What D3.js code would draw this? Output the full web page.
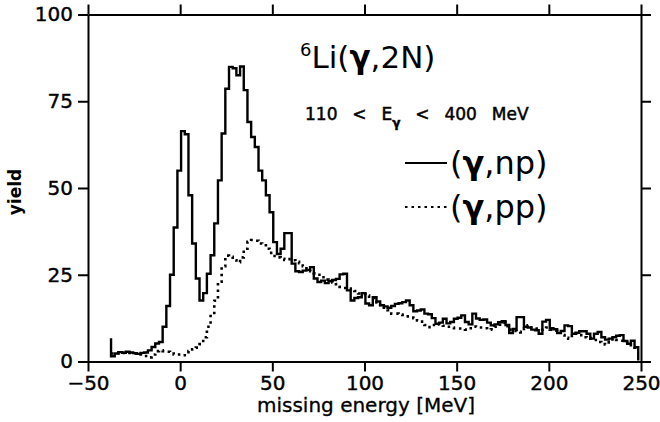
<!DOCTYPE html>
<html lang="en">
<head>
<meta charset="utf-8">
<title>6Li(gamma,2N) missing energy</title>
<script src="https://d3js.org/d3.v7.min.js"></script>
<style>
  body { margin: 0; background: #fff; }
  text { font-family: "DejaVu Sans", "Liberation Sans", Arial, sans-serif; fill: #000; }
</style>
</head>
<body>
<div id="chart"></div>
<script>
// histogram bins: 2 MeV wide, first edge at -37.5 MeV
var binStart = -37.5, binWidth = 2;

// (gamma,np) yield per bin
var npStart = 6.7;
var npYield = [
  1.5, 2.3, 2.7, 2.5, 2.8, 2.6, 2.4, 2.2, 2.5, 2.6,
  3.2, 4.2, 5.2, 5.6, 10, 16, 25, 38.6, 55, 66.4,
  65.5, 47.9, 34, 23.9, 17.6, 19.7, 25.3, 30.6, 39.8, 52.2,
  65.7, 78.6, 84.9, 84.5, 82.5, 85, 78.2, 69, 64.7, 61.8,
  55, 52.2, 47.9, 43, 34.4, 31, 32.5, 37, 37, 28.2,
  26, 25.8, 26.2, 26.4, 27.2, 23.9, 22.9, 23.3, 22.6, 23.2,
  23.5, 23.8, 25.1, 25.3, 20.5, 17.6, 18.3, 18.5, 19.7, 16.7,
  16.2, 18.5, 17.3, 16.2, 15.9, 15.5, 16.0, 16.6, 16.8, 17.1,
  17.6, 16.2, 14.5, 14.7, 15.0, 13.8, 13.6, 12.5, 10.9, 11.2,
  12.3, 11, 11.4, 12.3, 12.6, 13.3, 11.4, 10.7, 13.8, 12.4,
  12, 12.1, 11.2, 10.4, 10.7, 11.3, 11.6, 10.5, 8.2, 9.4,
  12.8, 12.8, 10, 9.8, 9.2, 9.0, 8.0, 11.5, 12, 9.6,
  9.3, 8.2, 8.8, 10.4, 10.2, 8, 8.3, 8.7, 8.7, 8,
  6.6, 8, 8.5, 7, 6.3, 6.6, 7, 7.4, 7.6, 5.9,
  5.1, 6, 4.1
];
var npEnd = 0.3;

// (gamma,pp) yield per bin
var ppYield = [
  2.3, 2.4, 2.6, 2.5, 2.6, 2.5, 2.3, 2.1, 2.0, 1.6,
  1.2, 2.0, 3.0, 3.2, 3.0, 2.8, 2.3, 2.0, 2.0, 1.8,
  2.2, 3.0, 3.5, 4.0, 5.0, 7.0, 10, 13.5, 17.5, 23,
  27.5, 30.5, 30.2, 29.2, 28.6, 30, 32.5, 34.5, 35, 34.8,
  34, 33.5, 32.5, 31.3, 30.4, 30, 29.6, 29.3, 29.5, 29.2,
  28.7, 28.3, 27.5, 26.5, 26, 25.4, 25, 24.3, 23.6, 23,
  22.8, 22.3, 21.5, 21.2, 21, 20.5, 20.3, 19.6, 19.4, 19,
  18.7, 18.3, 17, 15.8, 15.5, 14.8, 13.8, 13.8, 13.5, 13.4,
  13, 12.7, 12.5, 11.8, 11.5, 10.5, 9.9, 10.5, 10.9, 10.7,
  10.3, 10, 9.8, 9.6, 9.5, 9.5, 9.2, 9.6, 10.1, 10,
  9.8, 9.6, 9.2, 9.3, 10, 10.6, 11.2, 10.2, 9.2, 8.8,
  8.6, 8.4, 9.5, 10.4, 9.8, 9.5, 9.2, 9.5, 9.8, 9.2,
  8.9, 8.5, 7.6, 6.8, 6.6, 7.4, 8, 7.6, 7, 6.8,
  6.6, 6.2, 5.6, 5, 4.9, 5.5, 6.6, 6.2, 6, 5.6,
  5, 4.2, 4
];

var xTicks = [-50, 0, 50, 100, 150, 200, 250];
var yTicks = [0, 25, 50, 75, 100];

var margin = {top: 14.5, right: 19, bottom: 60.5, left: 88},
    width = 660 - margin.left - margin.right,
    height = 422 - margin.top - margin.bottom;

var svg = d3.select("#chart")
  .append("svg")
    .attr("width", 660)
    .attr("height", 422)
  .append("g")
    .attr("transform", "translate(" + margin.left + "," + margin.top + ")");

var x = d3.scaleLinear().domain([-50, 250]).range([0, width]);
var y = d3.scaleLinear().domain([0, 100]).range([height, 0]);

// axes on all four sides, ticks pointing out
function styleAxis(g) {
  g.selectAll("path, line").attr("stroke", "#000").attr("stroke-width", 2);
  g.selectAll("text").style("font-family", "'DejaVu Sans', Arial, sans-serif")
    .style("font-size", "20px").attr("fill", "#000")
    .attr("stroke", "#000").attr("stroke-width", 0.4);
}

svg.append("g")
  .attr("transform", "translate(0," + height + ")")
  .call(d3.axisBottom(x).tickValues(xTicks).tickSize(10).tickSizeOuter(0).tickPadding(4))
  .call(styleAxis);

svg.append("g")
  .call(d3.axisTop(x).tickValues(xTicks).tickSize(10).tickSizeOuter(0).tickFormat(""))
  .call(styleAxis);

svg.append("g")
  .call(d3.axisLeft(y).tickValues(yTicks).tickSize(10).tickSizeOuter(0).tickPadding(5))
  .call(styleAxis);

svg.append("g")
  .attr("transform", "translate(" + width + ",0)")
  .call(d3.axisRight(y).tickValues(yTicks).tickSize(10).tickSizeOuter(0).tickFormat(""))
  .call(styleAxis);

// turn bin values into step outline points
function steps(vals, startVal, endVal) {
  var pts = [];
  if (startVal != null) pts.push([binStart, startVal]);
  vals.forEach(function(v, i) {
    pts.push([binStart + i * binWidth, v]);
    pts.push([binStart + (i + 1) * binWidth, v]);
  });
  if (endVal != null) pts.push([binStart + vals.length * binWidth, endVal]);
  return pts;
}

var line = d3.line()
  .x(function(d) { return x(d[0]); })
  .y(function(d) { return y(d[1]); });

svg.append("path")
  .datum(steps(ppYield, null, null))
  .attr("d", line)
  .attr("fill", "none")
  .attr("stroke", "#000")
  .attr("stroke-width", 2.6)
  .attr("stroke-dasharray", "2.5,4");

svg.append("path")
  .datum(steps(npYield, npStart, npEnd))
  .attr("d", line)
  .attr("fill", "none")
  .attr("stroke", "#000")
  .attr("stroke-width", 2.4);

// axis titles
svg.append("text")
  .attr("x", 366 - margin.left)
  .attr("y", 412 - margin.top)
  .attr("text-anchor", "middle")
  .style("font-size", "20px")
  .attr("stroke", "#000").attr("stroke-width", 0.3)
  .text("missing energy [MeV]");

svg.append("text")
  .attr("transform", "translate(" + (-67) + "," + (y(50) + 4) + ") rotate(-90)")
  .attr("text-anchor", "middle")
  .style("font-size", "17px")
  .style("font-weight", "bold")
  .text("yield");

// labels inside the frame
var title = svg.append("text")
  .attr("x", 300 - margin.left)
  .attr("y", 68 - margin.top)
  .style("font-size", "31px");
title.append("tspan").attr("dy", -12).style("font-size", "18px").text("6");
title.append("tspan").attr("dy", 12).text("Li(");
title.append("tspan").style("font-weight", "bold").text("γ");
title.append("tspan").text(",2N)");

var range = svg.append("text")
  .attr("x", 305 - margin.left)
  .attr("y", 120 - margin.top)
  .style("font-size", "17px")
  .style("word-spacing", "9.5px")
  .attr("stroke", "#000").attr("stroke-width", 0.5);
range.append("tspan").text("110 < E");
range.append("tspan").attr("dy", 7).style("font-size", "12px").style("font-weight", "bold").text("γ");
range.append("tspan").attr("dy", -7).text(" < 400 MeV");

// legend
var legend = [
  {label: "np", dash: null, y: 163},
  {label: "pp", dash: "2.5,4", y: 207}
];
legend.forEach(function(d) {
  svg.append("line")
    .attr("x1", 405 - margin.left).attr("x2", 447 - margin.left)
    .attr("y1", d.y - margin.top).attr("y2", d.y - margin.top)
    .attr("stroke", "#000").attr("stroke-width", 2)
    .attr("stroke-dasharray", d.dash);
  var t = svg.append("text")
    .attr("x", 450 - margin.left)
    .attr("y", d.y - margin.top + 11)
    .style("font-size", "32px");
  t.append("tspan").text("(");
  t.append("tspan").style("font-weight", "bold").text("γ");
  t.append("tspan").text("," + d.label + ")");
});
</script>
</body>
</html>
